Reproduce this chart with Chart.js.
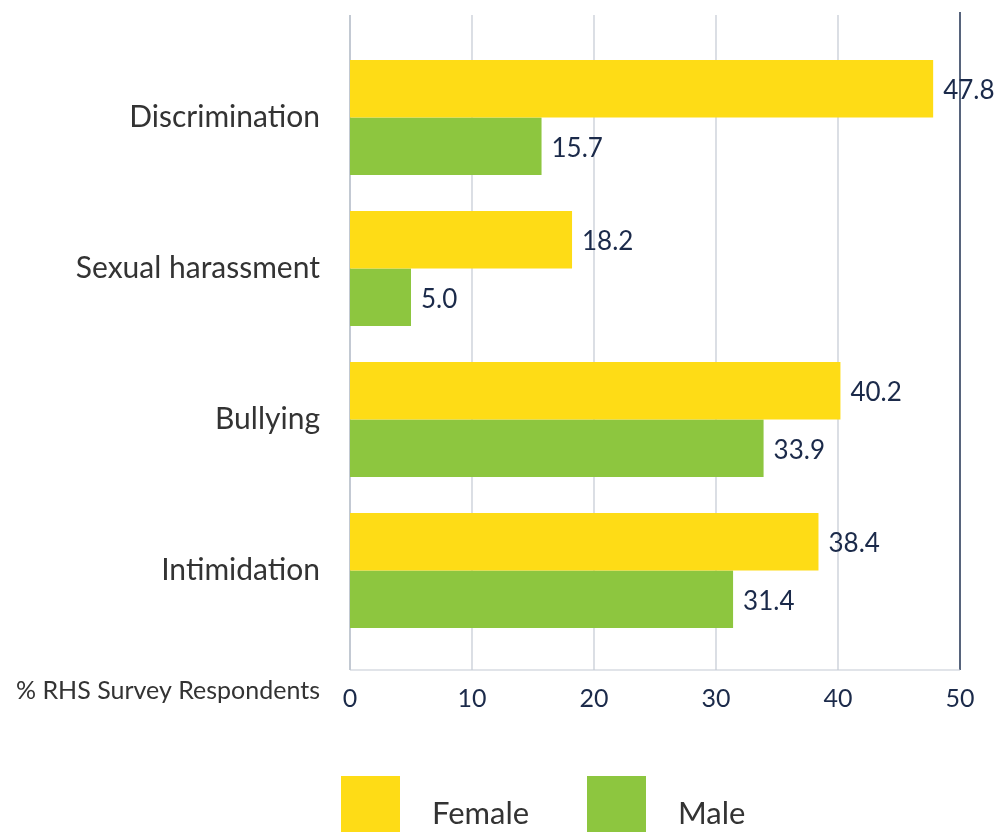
<!DOCTYPE html>
<html>
<head>
<meta charset="utf-8">
<script src="https://cdn.jsdelivr.net/npm/chart.js@4"></script>
<style>
  html, body { margin: 0; padding: 0; background: #fff; }
  #wrap { width: 995px; height: 832px; }
</style>
</head>
<body>
<div id="wrap"><canvas id="chart"></canvas></div>
<script>
var categories = ['Discrimination', 'Sexual harassment', 'Bullying', 'Intimidation'];
var female = [47.8, 18.2, 40.2, 38.4];
var male = [15.7, 5.0, 33.9, 31.4];
var xTicks = [0, 10, 20, 30, 40, 50];
var axisTitle = '% RHS Survey Respondents';

var FONT = 'Lato, "Open Sans", sans-serif';
var NAVY = '#1b2a4a';

// grid lines run past the plot area, so draw them by hand
var gridPlugin = {
  id: 'grid',
  beforeDatasetsDraw: function (chart) {
    var ctx = chart.ctx, x = chart.scales.x;
    var top = 15, bottom = 670;
    ctx.save();
    xTicks.forEach(function (v) {
      var px = x.getPixelForValue(v);
      ctx.beginPath();
      ctx.lineWidth = v == 50 ? 1.5 : 1.2;
      ctx.strokeStyle = v == 50 ? '#1f3050' : (v == 0 ? '#9aa5b5' : '#c3c9d3');
      ctx.moveTo(px, v == 50 ? 12 : top);
      ctx.lineTo(px, bottom);
      ctx.stroke();
    });
    ctx.beginPath();
    ctx.lineWidth = 1.2;
    ctx.strokeStyle = '#c3c9d3';
    ctx.moveTo(x.getPixelForValue(0), bottom);
    ctx.lineTo(x.getPixelForValue(50), bottom);
    ctx.stroke();
    ctx.restore();
  }
};

var labelPlugin = {
  id: 'labels',
  afterDatasetsDraw: function (chart) {
    var ctx = chart.ctx;
    ctx.save();
    ctx.font = '26px ' + FONT;
    ctx.fillStyle = NAVY;
    ctx.textBaseline = 'middle';
    ctx.textAlign = 'left';
    chart.data.datasets.forEach(function (ds, i) {
      chart.getDatasetMeta(i).data.forEach(function (bar, j) {
        ctx.fillText(ds.data[j].toFixed(1), bar.x + 10, bar.y + 2);
      });
    });
    // axis title left of the tick labels
    ctx.fillStyle = '#333';
    ctx.font = '25px ' + FONT;
    ctx.textAlign = 'right';
    ctx.fillText(axisTitle, 320, 691);
    // legend
    var items = chart.data.datasets;
    var starts = [341, 587];
    items.forEach(function (ds, i) {
      ctx.fillStyle = ds.backgroundColor;
      ctx.fillRect(starts[i], 776, 59, 58);
      ctx.fillStyle = '#333';
      ctx.font = '31px ' + FONT;
      ctx.textAlign = 'left';
      ctx.fillText(ds.label, starts[i] + 91, 814);
    });
    ctx.restore();
  }
};

new Chart(document.getElementById('chart'), {
  type: 'bar',
  data: {
    labels: categories,
    datasets: [
      { label: 'Female', data: female, backgroundColor: '#fedc16' },
      { label: 'Male', data: male, backgroundColor: '#8dc63f' }
    ]
  },
  options: {
    indexAxis: 'y',
    responsive: true,
    maintainAspectRatio: false,
    animation: false,
    layout: { padding: { top: 42, right: 35, left: 0, bottom: 0 } },
    datasets: { bar: { barPercentage: 1.0, categoryPercentage: 0.76 } },
    scales: {
      x: {
        min: 0,
        max: 50,
        afterFit: function (s) { s.height = 186; s.paddingLeft = 0; s.paddingRight = 0; },
        afterBuildTicks: function (s) { s.ticks = xTicks.map(function (v) { return { value: v }; }); },
        grid: { display: false },
        border: { display: false },
        ticks: { color: NAVY, font: { family: FONT, size: 25 }, padding: 30, maxRotation: 0 }
      },
      y: {
        afterFit: function (s) { s.width = 350; },
        grid: { display: false },
        border: { display: false },
        ticks: { color: '#333', font: { family: FONT, size: 30 }, padding: 22 }
      }
    },
    plugins: {
      legend: { display: false },
      tooltip: { enabled: false }
    }
  },
  plugins: [gridPlugin, labelPlugin]
});
</script>
</body>
</html>
